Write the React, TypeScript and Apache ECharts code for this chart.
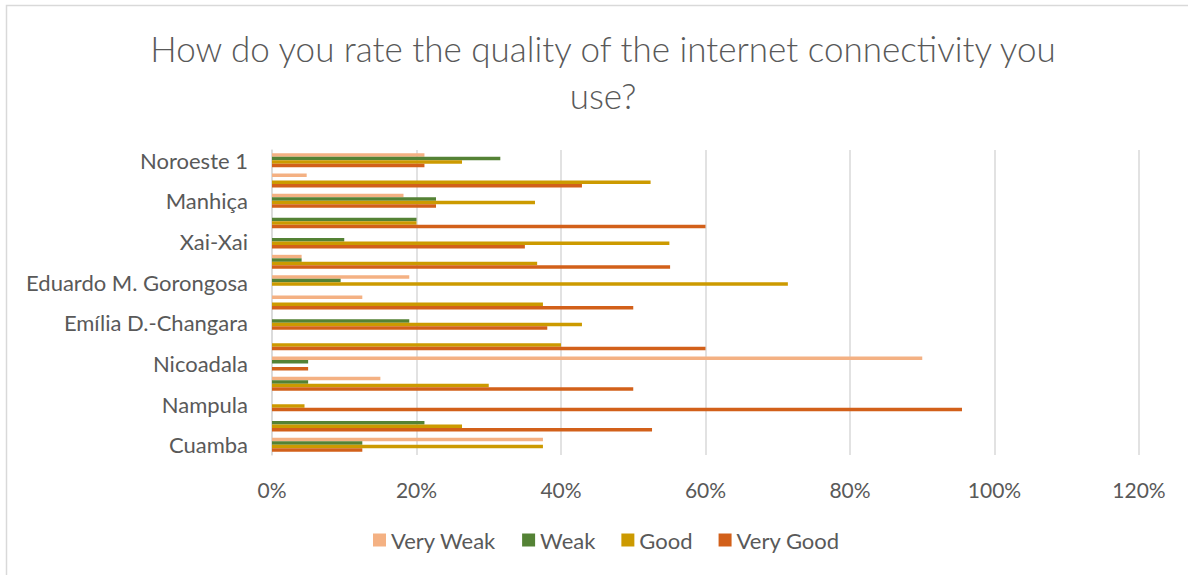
import React, { useEffect, useRef } from "react";
import * as echarts from "echarts";

const categories = [
  "Cuamba",
  "Site 2",
  "Nampula",
  "Site 4",
  "Nicoadala",
  "Site 6",
  "Emília D.-Changara",
  "Site 8",
  "Eduardo M. Gorongosa",
  "Site 10",
  "Xai-Xai",
  "Site 12",
  "Manhiça",
  "Site 14",
  "Noroeste 1",
];

const veryWeak = [37.5, 0, 0, 15, 90, 0, 0, 12.5, 19.0, 4.1, 0, 0, 18.2, 4.8, 21.1];
const weak = [12.5, 21.1, 0, 5, 5, 0, 19.0, 0, 9.5, 4.1, 10, 20, 22.7, 0, 31.6];
const good = [37.5, 26.3, 4.5, 30, 0, 40, 42.9, 37.5, 71.4, 36.7, 55, 20, 36.4, 52.4, 26.3];
const veryGood = [12.5, 52.6, 95.5, 50, 5, 60, 38.1, 50, 0, 55.1, 35, 60, 22.7, 42.9, 21.1];

const seriesNames = ["Very Weak", "Weak", "Good", "Very Good"];
const seriesColors = ["#F4B183", "#548235", "#CC9A00", "#D2601A"];
const xTicks = [0, 20, 40, 60, 80, 100, 120];

const FONT = "Lato, 'Open Sans', sans-serif";
const TEXT = "#595959";

export default function App() {
  const ref = useRef<HTMLDivElement>(null);
  useEffect(() => {
    if (!ref.current) return;
    const chart = echarts.init(ref.current, undefined, { renderer: "svg" });
    const data = [veryWeak, weak, good, veryGood];
    chart.setOption({
      animation: false,
      backgroundColor: "#ffffff",
      textStyle: { fontFamily: FONT },
      title: {
        text: "How do you rate the quality of the internet connectivity you\nuse?",
        left: 598,
        textAlign: "center",
        top: 19,
        textStyle: {
          fontFamily: FONT,
          fontSize: 35,
          fontWeight: 300,
          color: TEXT,
          lineHeight: 47,
        },
      },
      graphic: [
        {
          type: "rect",
          shape: { x: 6.5, y: 5.5, width: 1400, height: 800 },
          style: { fill: "none", stroke: "#D9D9D9", lineWidth: 1.5 },
          silent: true,
        },
      ],
      legend: {
        data: seriesNames,
        left: 368,
        top: 524,
        itemWidth: 13,
        itemHeight: 13,
        itemGap: 26,
        icon: "rect",
        textStyle: { fontFamily: FONT, fontSize: 22, color: TEXT, padding: [0, 0, 0, 0] },
      },
      grid: { left: 272, right: 49, top: 150, bottom: 120, containLabel: false },
      xAxis: {
        type: "value",
        min: xTicks[0],
        max: xTicks[xTicks.length - 1],
        interval: 20,
        axisLine: { show: false },
        axisTick: { show: false },
        splitLine: { show: true, lineStyle: { color: "#D9D9D9", width: 1.5 } },
        axisLabel: {
          formatter: (v: number) => `${v}%`,
          fontFamily: FONT,
          fontSize: 21,
          color: TEXT,
          margin: 24,
        },
      },
      yAxis: {
        type: "category",
        data: categories,
        axisLine: { show: true, lineStyle: { color: "#D9D9D9", width: 1.5 } },
        axisTick: { show: false },
        axisLabel: {
          interval: 1,
          fontFamily: FONT,
          fontSize: 22,
          color: TEXT,
          margin: 24,
        },
      },
      series: seriesNames.map((name, i) => ({
        name,
        type: "bar",
        data: data[i],
        barGap: "0%",
        barCategoryGap: "31%",
        itemStyle: { color: seriesColors[i] },
      })),
    });
    return () => chart.dispose();
  }, []);
  return (
    <div
      ref={ref}
      style={{ position: "fixed", left: 0, top: 0, width: 1188, height: 575 }}
    />
  );
}
